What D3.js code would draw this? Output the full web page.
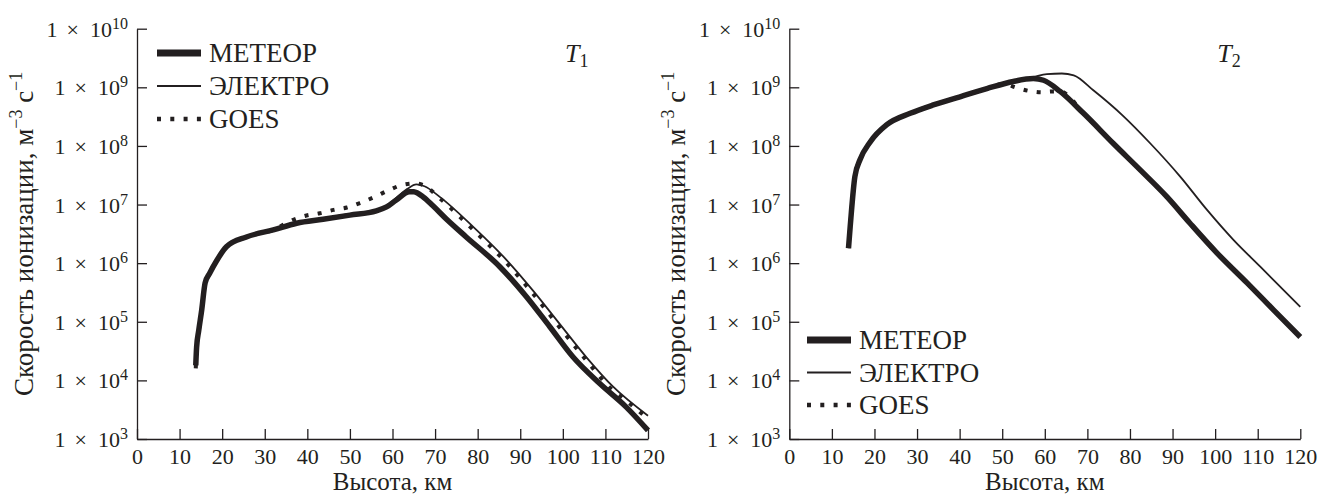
<!DOCTYPE html>
<html>
<head>
<meta charset="utf-8">
<script src="https://cdn.jsdelivr.net/npm/d3@7"></script>
<style>
  body { margin: 0; background: #fff; }
  svg { display: block; }
</style>
</head>
<body>
<svg id="chart" width="1322" height="495"></svg>
<script>
// высота, км и скорость ионизации, м^-3 с^-1

// T1
const t1MeteorH = [13.8, 14, 14.5, 15.2, 16, 17.1, 18.7, 21, 25.7, 32, 37.5, 43.7, 50, 56.2, 58.6, 60.9, 64, 65, 67.2, 69.5, 72.7, 77.3, 85.2, 91.4, 96.9, 102.4, 108.6, 114.9, 120]
const t1MeteorV = [1.8e4, 3.7e4, 7.1e4, 1.6e5, 4.6e5, 6.8e5, 1.1e6, 1.9e6, 2.8e6, 3.7e6, 4.8e6, 5.6e6, 6.6e6, 7.8e6, 9.1e6, 1.2e7, 1.66e7, 1.65e7, 1.35e7, 9.5e6, 5.6e6, 2.8e6, 8.7e5, 2.7e5, 8.3e4, 2.5e4, 8.9e3, 3.5e3, 1.4e3]

const t1ElektroH = [14, 14.5, 15.2, 16, 17.1, 18.7, 21, 25.7, 32, 37.5, 43.7, 50, 56.2, 58.6, 60.9, 63.5, 65.6, 67.5, 71.1, 78.9, 86.7, 93, 99.2, 105.5, 111.8, 120]
const t1ElektroV = [4.0e4, 7.5e4, 1.7e5, 4.8e5, 7.1e5, 1.15e6, 2.0e6, 2.9e6, 3.8e6, 5.0e6, 5.8e6, 6.9e6, 8.1e6, 9.6e6, 1.3e7, 1.85e7, 2.2e7, 2.05e7, 1.35e7, 4.2e6, 1.15e6, 3.4e5, 9.3e4, 2.5e4, 7.8e3, 2.5e3]

const t1GoesH = [13.8, 14, 14.5, 15.2, 16, 17.1, 18.7, 21, 25.7, 32, 36.7, 39.8, 42.9, 46.2, 49.3, 52.5, 55.8, 59, 62.1, 65.5, 67.5, 71, 78.5, 86.3, 92.7, 99, 105.3, 111.5, 114.9, 120]
const t1GoesV = [1.6e4, 3.5e4, 7e4, 1.6e5, 4.5e5, 6.7e5, 1.1e6, 1.9e6, 2.8e6, 3.7e6, 5.5e6, 6.5e6, 7.1e6, 8.1e6, 8.9e6, 1.07e7, 1.35e7, 1.74e7, 2.14e7, 2.3e7, 2.1e7, 1.3e7, 4e6, 1.1e6, 3.2e5, 8.5e4, 2.3e4, 7e3, 4.5e3, 2.2e3]

// T2
const t2MeteorH = [13.9, 14.3, 15.4, 16.6, 19, 22.9, 28.4, 33.8, 40.1, 46.4, 52.6, 57.3, 59.7, 63.6, 69.1, 76.1, 82.4, 88.7, 94.1, 100.4, 107.5, 113.7, 120]
const t2MeteorV = [1.8e6, 4.2e6, 3.0e7, 5.8e7, 1.17e8, 2.3e8, 3.6e8, 5.0e8, 6.9e8, 9.5e8, 1.26e9, 1.41e9, 1.32e9, 8.5e8, 3.6e8, 1.1e8, 3.9e7, 1.35e7, 4.8e6, 1.5e6, 4.6e5, 1.6e5, 5.5e4]

const t2ElektroH = [13.9, 14.3, 15.4, 16.6, 19, 22.9, 28.4, 33.8, 40.1, 46.4, 52.6, 57.3, 60.5, 64, 66.8, 71.4, 78.5, 84.8, 91.8, 98.1, 104.3, 110.6, 120]
const t2ElektroV = [1.8e6, 4.2e6, 3.0e7, 5.8e7, 1.17e8, 2.3e8, 3.6e8, 5.0e8, 6.9e8, 9.6e8, 1.28e9, 1.5e9, 1.68e9, 1.72e9, 1.6e9, 8.9e8, 3.2e8, 1.1e8, 3.0e7, 8.1e6, 2.5e6, 8.7e5, 1.8e5]

const t2GoesH = [13.9, 14.3, 15.4, 16.6, 19, 22.9, 28.4, 33.8, 40.1, 46.4, 50.5, 53, 56.2, 59.3, 61.5, 63.6, 69.1, 76.1, 82.4, 88.7, 94.1, 100.4, 107.5, 113.7, 120]
const t2GoesV = [1.8e6, 4.2e6, 3.0e7, 5.8e7, 1.17e8, 2.3e8, 3.6e8, 5.0e8, 6.9e8, 9.5e8, 1.15e9, 1.0e9, 8.7e8, 8.2e8, 8.5e8, 8.5e8, 3.6e8, 1.1e8, 3.9e7, 1.35e7, 4.8e6, 1.5e6, 4.6e5, 1.6e5, 5.5e4]

const seriesNames = ['МЕТЕОР', 'ЭЛЕКТРО', 'GOES']
const xTicks = [0, 10, 20, 30, 40, 50, 60, 70, 80, 90, 100, 110, 120]
const yTicks = [1e3, 1e4, 1e5, 1e6, 1e7, 1e8, 1e9, 1e10]

const ink = '#231f20'
const serif = '"Liberation Serif", "Times New Roman", serif'

const lineStyle = {
    'МЕТЕОР': {width: 5.5, dash: null},
    'ЭЛЕКТРО': {width: 1.8, dash: null},
    'GOES': {width: 4, dash: '4,9.3'}
}

const panels = [
    {
        left: 137, title: '1',
        series: [[t1MeteorH, t1MeteorV], [t1ElektroH, t1ElektroV], [t1GoesH, t1GoesV]],
        legend: {x: 157, y: 53, step: 33}
    },
    {
        left: 789.3, title: '2',
        series: [[t2MeteorH, t2MeteorV], [t2ElektroH, t2ElektroV], [t2GoesH, t2GoesV]],
        legend: {x: 807, y: 340, step: 32.5}
    }
]

const plotW = 511, plotTop = 28.7, plotBottom = 439

let svg = d3.select('#chart')
    .style('font-family', serif)

function drawPanel(p) {

    let g = svg.append('g').attr('transform', `translate(${p.left},0)`)

    let x = d3.scaleLinear().domain([0, 120]).range([0, plotW])
    let y = d3.scaleLog().domain([1e3, 1e10]).range([plotBottom, plotTop])

    // curves
    let line = d3.line()
        .x(d => x(d[0]))
        .y(d => y(d[1]))
        .curve(d3.curveMonotoneX)

    p.series.forEach((s, i) => {
        let st = lineStyle[seriesNames[i]]
        let pts = s[0].map((h, j) => [h, s[1][j]])
        g.append('path')
            .attr('d', line(pts))
            .attr('fill', 'none')
            .attr('stroke', ink)
            .attr('stroke-width', st.width)
            .attr('stroke-dasharray', st.dash)
            .attr('stroke-linejoin', 'round')
    })

    // y axis
    let ya = g.append('g')
        .call(d3.axisLeft(y).tickValues(yTicks).tickSize(-10).tickSizeOuter(0).tickFormat(''))
        .style('font-family', serif)
    ya.selectAll('path, line').attr('stroke', ink).attr('stroke-width', 1.3)

    ya.selectAll('.tick').append('text')
        .attr('x', -9)
        .attr('y', 7.5)
        .attr('fill', ink)
        .style('font-size', '22px')
        .attr('text-anchor', 'end')
        .each(function(d) {
            let t = d3.select(this)
            t.append('tspan').text('1')
            t.append('tspan').attr('dx', 9).text('×')
            t.append('tspan').attr('dx', 11).text('10')
            t.append('tspan').attr('dy', -8).style('font-size', '16px').text(Math.round(Math.log10(d)))
        })

    // x axis
    let xa = g.append('g')
        .attr('transform', `translate(0,${plotBottom})`)
        .call(d3.axisBottom(x).tickValues(xTicks).tickSize(-10).tickSizeOuter(0).tickPadding(9))
        .style('font-family', serif)
    xa.selectAll('path, line').attr('stroke', ink).attr('stroke-width', 1.3)
    xa.selectAll('text')
        .attr('fill', ink)
        .style('font-size', '22px')

    // axis titles
    g.append('text')
        .attr('x', plotW / 2)
        .attr('y', 490)
        .attr('text-anchor', 'middle')
        .style('font-size', '25px')
        .attr('fill', ink)
        .text('Высота, км')

    let yt = g.append('text')
        .attr('transform', `translate(-104,${(plotTop + plotBottom) / 2}) rotate(-90)`)
        .attr('text-anchor', 'middle')
        .style('font-size', '27px')
        .attr('fill', ink)
    yt.append('tspan').text('Скорость ионизации, м')
    yt.append('tspan').attr('dy', -11).style('font-size', '18px').text('\u22123')
    yt.append('tspan').attr('dy', 11).text(' с')
    yt.append('tspan').attr('dy', -11).style('font-size', '18px').text('\u22121')

    // T label
    let tl = g.append('text')
        .attr('x', x(100.5))
        .attr('y', 62)
        .style('font-size', '26px')
        .attr('fill', ink)
    tl.append('tspan').style('font-style', 'italic').text('T')
    tl.append('tspan').attr('dy', 5).style('font-size', '18px').text(p.title)

    // legend
    let lg = svg.append('g')
    seriesNames.forEach((name, i) => {
        let st = lineStyle[name]
        let ly = p.legend.y + i * p.legend.step
        lg.append('line')
            .attr('x1', p.legend.x).attr('x2', p.legend.x + 44)
            .attr('y1', ly).attr('y2', ly)
            .attr('stroke', ink)
            .attr('stroke-width', i == 0 ? 7 : st.width + 0.4)
            .attr('stroke-dasharray', st.dash)
        lg.append('text')
            .attr('x', p.legend.x + 52)
            .attr('y', ly + 9)
            .style('font-size', '27px')
            .attr('fill', ink)
            .text(name)
    })
}

panels.forEach(drawPanel)
</script>
</body>
</html>
